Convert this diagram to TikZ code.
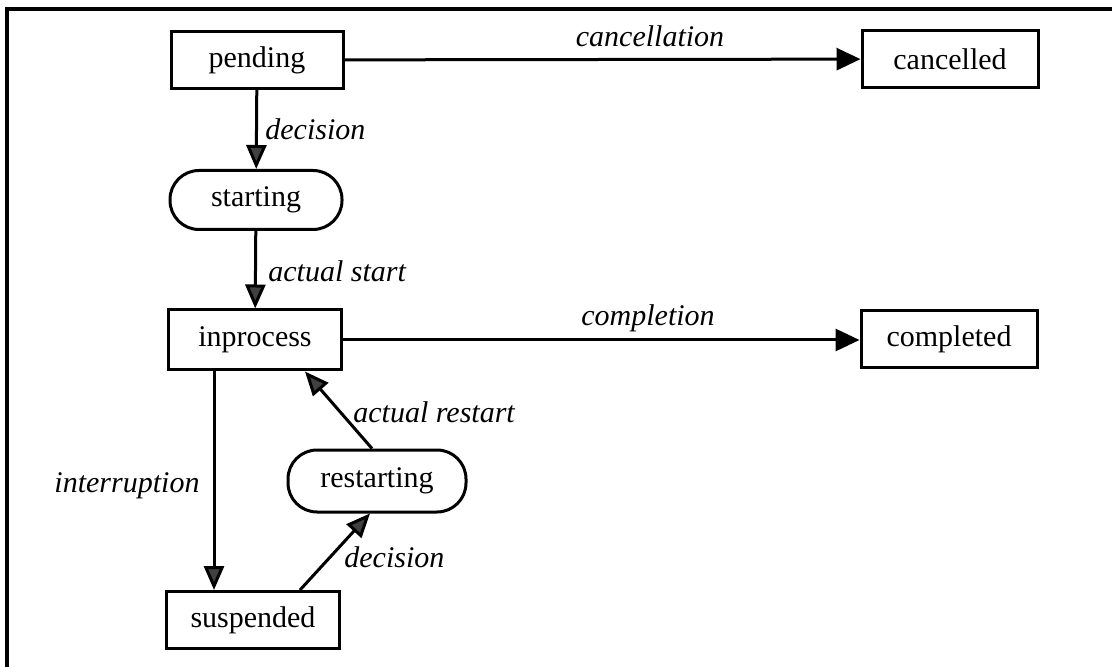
\documentclass[tikz,border=0pt]{standalone}
\usepackage{fontspec}
\setmainfont{Liberation Serif}
\usetikzlibrary{arrows.meta,calc}
\begin{document}
\begin{tikzpicture}[x=0.5pt,y=-0.5pt,
  state/.style={draw,line width=1.5pt,inner sep=0pt,font=\fontsize{15}{18}\selectfont},
  softstate/.style={state,rounded corners=14.5pt},
  trans/.style={line width=1.5pt,-{Triangle[length=12pt,width=10pt,fill=black!75]}},
  strong/.style={line width=1.5pt,-{Triangle[length=12pt,width=11pt]}},
  lbl/.style={inner sep=0pt,font=\fontsize{15}{18}\selectfont\itshape}]
  \useasboundingbox (0,0) rectangle (1112,667);
  % open frame: top and left edges
  \draw[line width=2pt] (1112,9) -- (7,9) -- (7,667);

  % states
  \node[state,minimum width=86pt,minimum height=28.5pt] (pending) at (257,60) {pending};
  \node[state,minimum width=88pt,minimum height=28.5pt] (cancelled) at (950,59) {cancelled};
  \node[softstate,minimum width=86pt,minimum height=29.5pt] (starting) at (256,200) {starting};
  \node[state,minimum width=86.5pt,minimum height=30pt] (inprocess) at (255,340) {inprocess};
  \node[state,minimum width=88pt,minimum height=28.5pt] (completed) at (949,339) {completed};
  \node[softstate,minimum width=89pt,minimum height=31pt] (restarting) at (377,481) {restarting};
  \node[state,minimum width=86.5pt,minimum height=28.5pt] (suspended) at (253,620) {suspended};

  % transitions
  \draw[trans] (pending) -- (starting);
  \draw[trans] (starting) -- (inprocess);
  \draw[strong] (pending) -- (cancelled);
  \draw[strong] (inprocess.east) -- (inprocess.east -| completed.west);
  \draw[trans] ($(inprocess.south)+(-41,0)$) -- ($(suspended.north)+(-39,0)$);
  \draw[trans] ($(suspended.north)+(47,0)$) -- ($(restarting.south)+(-7,0)$);
  \draw[trans] ($(restarting.north)+(-5,0)$) -- ($(inprocess.south)+(50,0)$);

  % transition labels
  \node[lbl,anchor=west] (l-dec1) at (265,129) {decision};
  \node[lbl,anchor=west] (l-start) at (268,271) {actual start};
  \node[lbl] (l-cancel) at (650,36) {cancellation};
  \node[lbl] (l-compl) at (648,318) {completion};
  \node[lbl] (l-intr) at (127,486) {interruption};
  \node[lbl,anchor=west] (l-dec2) at (344,557) {decision};
  \node[lbl,anchor=west] (l-restart) at (353,412) {actual restart};
\end{tikzpicture}
\end{document}
